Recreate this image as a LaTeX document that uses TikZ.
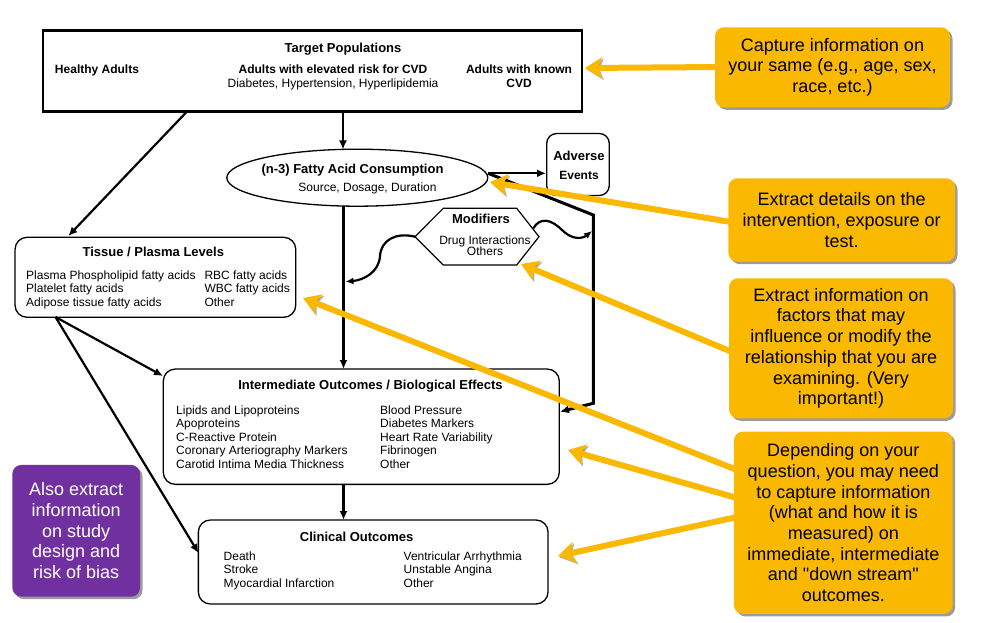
\documentclass[tikz,border=0pt]{standalone}
\usepackage{fontspec}
\setmainfont{Liberation Sans}[Ligatures=TeXOff]
\usetikzlibrary{arrows.meta,shapes.geometric,shadows}
\definecolor{gold}{RGB}{250,185,0}
\definecolor{purp}{RGB}{112,48,160}
\begin{document}
\begin{tikzpicture}[x=1pt,y=-1pt,
  tf/.style={font=\fontsize{13}{15}\selectfont\bfseries,anchor=base,inner sep=0pt},
  bf/.style={font=\fontsize{12}{13.5}\selectfont\bfseries,anchor=base,inner sep=0pt},
  rf/.style={font=\fontsize{12}{13.5}\selectfont,anchor=base,inner sep=0pt},
  col/.style={font=\fontsize{12}{13.5}\selectfont,align=left,anchor=north west,inner sep=0pt},
  rbox/.style={draw,line width=1.3pt,rounded corners=12pt,inner sep=0pt},
  arr/.style={line width=2.2pt,-{Latex[length=9pt,width=8pt]}},
  garr/.style={draw=gold,line width=6pt,line cap=round,-{Stealth[length=17pt,width=21pt,inset=4pt]},
    preaction={draw=black,opacity=0.3,transform canvas={shift={(1.5pt,-1.5pt)}}}},
  call/.style={fill=gold,rounded corners=9pt,drop shadow={shadow xshift=2.5pt,shadow yshift=-2.5pt,opacity=0.55,fill=black!70},align=center,font=\fontsize{18}{20.7}\selectfont,inner sep=0pt},
]
\fill[white] (0,0) rectangle (989,623);
\useasboundingbox (0,0) rectangle (989,623);

% Target populations
\node[draw,line width=2.2pt,minimum width=539pt,minimum height=81pt,inner sep=0pt] (tp) at (312.5,71) {};
\node[tf] (tpt) at (343,53) {Target Populations};
\node[bf] (tp1) at (97,74) {Healthy Adults};
\node[bf] (tp2) at (333,74) {Adults with elevated risk for CVD};
\node[rf] (tp2b) at (333,88) {Diabetes, Hypertension, Hyperlipidemia};
\node[bf] (tp3) at (519,74) {Adults with known};
\node[bf] (tp3b) at (519,88) {CVD};

% Fatty acid consumption
\node[draw,ellipse,line width=1.3pt,minimum width=261pt,minimum height=57pt,inner sep=0pt] (fa) at (357.3,177.7) {};
\node[tf] (fat) at (352.5,173.3) {(n-3) Fatty Acid Consumption};
\node[rf] (fab) at (367.5,191.7) {Source, Dosage, Duration};

% Adverse events
\node[rbox,rounded corners=10pt,minimum width=62.6pt,minimum height=62pt] (ae) at (578,164.5) {};
\node[tf] (aet) at (579,161) {Adverse};
\node[bf] (aeb) at (579,180) {Events};

% Modifiers hexagon
\coordinate (hL) at (415,236.7);
\coordinate (hTL) at (443.3,208.3);
\coordinate (hTR) at (516.7,208.3);
\coordinate (hR) at (539,236.7);
\coordinate (hBR) at (516.7,265);
\coordinate (hBL) at (443.3,265);
\draw[line width=1.2pt,fill=white] (hL) -- (hTL) -- (hTR) -- (hR) -- (hBR) -- (hBL) -- cycle;
\node[tf] (modt) at (481,223.3) {Modifiers};
\node[rf] (mod1) at (485,244) {Drug Interactions};
\node[rf] (mod2) at (485,255.7) {Others};

% Tissue / plasma
\node[rbox,minimum width=280.7pt,minimum height=80pt] (tis) at (155.4,277.3) {};
\node[tf] (tist) at (153.3,256.7) {Tissue / Plasma Levels};
\node[col] (tisa) at (26,270.6) {Plasma Phospholipid fatty acids\\Platelet fatty acids\\Adipose tissue fatty acids};
\node[col] (tisb) at (204.3,270.6) {RBC fatty acids\\WBC fatty acids\\Other};

% Intermediate outcomes
\node[rbox,minimum width=396pt,minimum height=115.3pt] (io) at (361.3,426.7) {};
\node[tf] (iot) at (370.5,389) {Intermediate Outcomes / Biological Effects};
\node[col] (ioa) at (176,405.6) {Lipids and Lipoproteins\\Apoproteins\\C-Reactive Protein\\Coronary Arteriography Markers\\Carotid Intima Media Thickness};
\node[col] (iob) at (380,405.6) {Blood Pressure\\Diabetes Markers\\Heart Rate Variability\\Fibrinogen\\Other};

% Clinical outcomes
\node[rbox,minimum width=349.7pt,minimum height=84pt] (co) at (373.2,562) {};
\node[tf] (cot) at (356.7,541.7) {Clinical Outcomes};
\node[col] (coa) at (223.5,551.3) {Death\\Stroke\\Myocardial Infarction};
\node[col] (cob) at (403.5,551.3) {Ventricular Arrhythmia\\Unstable Angina\\Other};

% black connectors
\coordinate (tpS) at (343,111.5);
\coordinate (tpSW) at (187,111.5);
\coordinate (faN) at (343,149.5);
\coordinate (faS) at (343.5,206);
\coordinate (faE) at (488,173.3);
\coordinate (tisN) at (68.3,236);
\coordinate (tisS) at (55.5,317);
\coordinate (ioN) at (343.5,369);
\coordinate (ioW) at (163,376);
\coordinate (ioS) at (343.5,484.3);
\coordinate (ioE) at (560,411.7);
\coordinate (coN) at (343.5,520);
\coordinate (coW) at (198.5,553);
\coordinate (bend1) at (593.3,215);
\coordinate (bend2) at (593.3,403.3);
\coordinate (modR) at (533.3,228.3);
\coordinate (hitR) at (592,231);
\coordinate (hitL) at (345.5,281.7);

\draw[arr] (tpS) -- (faN);
\draw[arr] (tpSW) -- (tisN);
\draw[arr] (faE) -- (ae.west |- faE);
\draw[line width=3pt,-{Latex[length=9pt,width=8pt]}] (faE) -- (bend1) -- (bend2) -- (ioE);
\draw[arr] (faS) -- (ioN);
\draw[arr] (tisS) -- (ioW);
\draw[arr] (tisS) -- (coW);
\draw[arr] (ioS) -- (coN);
\draw[line width=2.2pt,-{Latex[length=8pt,width=7pt]}] (modR) .. controls (540,217) and (551,219) .. (562,230) .. controls (572,240) and (582,239) .. (hitR);
\draw[line width=2.2pt,-{Latex[length=8pt,width=7pt]}] (hL) .. controls (396,232) and (381,240) .. (380,256) .. controls (379,272) and (364,280) .. (hitL);

% orange arrows (tails start inside the callouts)
\coordinate (s1) at (719,67);
\coordinate (s2) at (731,222);
\coordinate (s3) at (732,352);
\coordinate (s4a) at (737,470);
\coordinate (s4b) at (737,498);
\coordinate (s4c) at (737,517);
\coordinate (t1) at (585,68);
\coordinate (t2) at (490,182);
\coordinate (t3) at (521,264);
\coordinate (t4a) at (303,298);
\coordinate (t4b) at (568,450);
\coordinate (t4c) at (558,556);
\draw[garr] (s1) -- (t1);
\draw[garr] (s2) -- (t2);
\draw[garr] (s3) -- (t3);
\draw[garr] (s4a) -- (t4a);
\draw[garr] (s4b) -- (t4b);
\draw[garr] (s4c) -- (t4c);

% callouts
\node[call,minimum width=235pt,minimum height=80pt] (c1) at (832.5,67.3) {Capture information on\\your same (e.g., age, sex,\\race, etc.)};
\node[call,minimum width=226.7pt,minimum height=83.4pt] (c2) at (841.7,220) {Extract details on the\\intervention, exposure or\\test.};
\node[call,minimum width=224pt,minimum height=140pt] (c3) at (841,348.3) {Extract information on\\factors that may\\influence or modify the\\relationship that you are\\examining. (Very\\important!)};
\node[call,minimum width=218.7pt,minimum height=182.3pt] (c4) at (843.3,522.8) {Depending on your\\question, you may need\\to capture information\\(what and how it is\\measured) on\\immediate, intermediate\\and "down stream"\\outcomes.};
\node[call,fill=purp,text=white,minimum width=127.7pt,minimum height=131.7pt] (pb) at (76.2,530.8) {Also extract\\information\\on study\\design and\\risk of bias};
\end{tikzpicture}
\end{document}
